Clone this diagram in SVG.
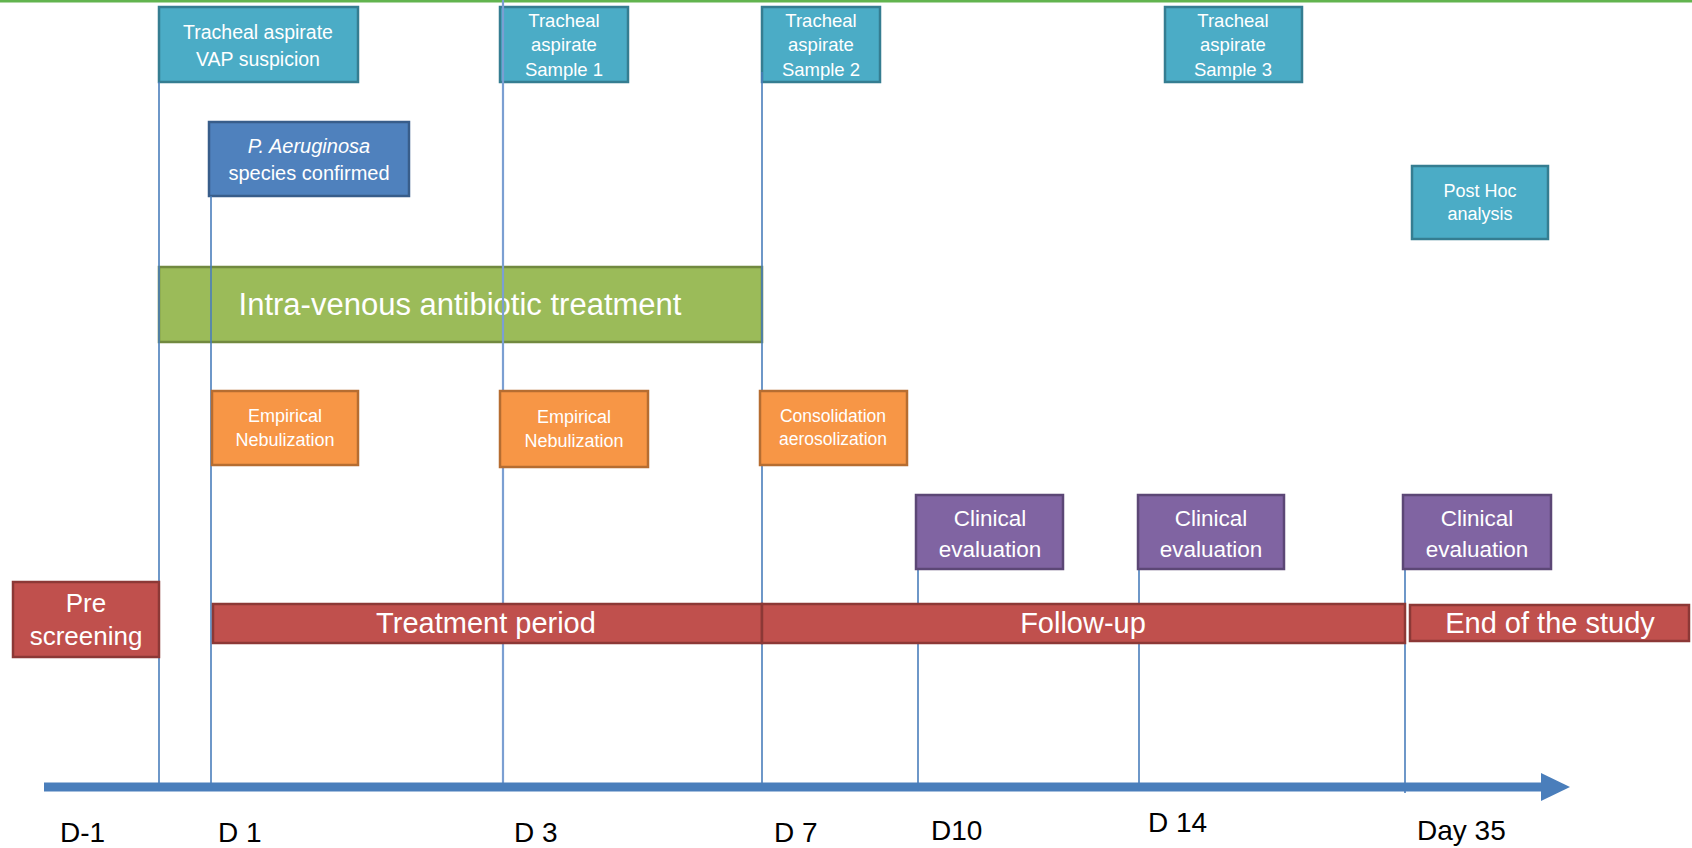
<svg xmlns="http://www.w3.org/2000/svg" width="1692" height="848" viewBox="0 0 1692 848">
  <defs>
    <style>
      text { font-family: "Liberation Sans", Arial, sans-serif; fill: #ffffff; text-anchor: middle; }
      .teal { fill: #4bacc6; stroke: #357d91; stroke-width: 2.5; }
      .blue { fill: #4f81bd; stroke: #385d8a; stroke-width: 2.5; }
      .green { fill: #9bbb59; stroke: #71893f; stroke-width: 2.5; }
      .orange { fill: #f79646; stroke: #b66d31; stroke-width: 2.5; }
      .purple { fill: #8064a2; stroke: #5c4776; stroke-width: 2.5; }
      .red { fill: #c0504d; stroke: #8c3836; stroke-width: 2.5; }
      .tick { stroke: #4a7ebb; stroke-width: 1.6; fill: none; }
      .day { fill: #000000; font-size: 28px; text-anchor: start; }
    </style>
  </defs>
  <rect width="1692" height="848" fill="#ffffff"/>
  <line x1="0" y1="1" x2="1692" y2="1" stroke="#62b44f" stroke-width="3"/>

  <!-- IV treatment span -->
  <g id="iv-treatment">
    <rect class="green" x="159" y="267" width="603" height="75"/>
    <text x="460" y="315" font-size="31">Intra-venous antibiotic treatment</text>
  </g>

  <!-- sampling boxes -->
  <g id="aspirate-vap">
    <rect class="teal" x="159" y="7" width="199" height="75"/>
    <text x="258" y="39" font-size="19.5">Tracheal aspirate</text>
    <text x="258" y="66" font-size="19.5">VAP suspicion</text>
  </g>
  <g id="aspirate-s1">
    <rect class="teal" x="500" y="7" width="128" height="75"/>
    <text font-size="18.5"><tspan x="564" y="27">Tracheal</tspan><tspan x="564" y="51">aspirate</tspan><tspan x="564" y="76">Sample 1</tspan></text>
  </g>
  <g id="aspirate-s2">
    <rect class="teal" x="762" y="7" width="118" height="75"/>
    <text font-size="18.5"><tspan x="821" y="27">Tracheal</tspan><tspan x="821" y="51">aspirate</tspan><tspan x="821" y="76">Sample 2</tspan></text>
  </g>
  <g id="aspirate-s3">
    <rect class="teal" x="1165" y="7" width="137" height="75"/>
    <text font-size="18.5"><tspan x="1233" y="27">Tracheal</tspan><tspan x="1233" y="51">aspirate</tspan><tspan x="1233" y="76">Sample 3</tspan></text>
  </g>
  <g id="post-hoc">
    <rect class="teal" x="1412" y="166" width="136" height="73"/>
    <text font-size="18"><tspan x="1480" y="197">Post Hoc</tspan><tspan x="1480" y="220">analysis</tspan></text>
  </g>
  <g id="species-confirmed">
    <rect class="blue" x="209" y="122" width="200" height="74"/>
    <text x="309" y="153" font-size="20" font-style="italic">P. Aeruginosa</text>
    <text x="309" y="180" font-size="20">species confirmed</text>
  </g>

  <!-- timeline markers -->
  <g id="connectors">
    <line class="tick" x1="159" y1="82" x2="159" y2="783"/>
    <line class="tick" x1="211" y1="196" x2="211" y2="783"/>
    <line x1="503" y1="0" x2="503" y2="783" stroke="#7b9fd2" stroke-width="2.2"/>
    <line class="tick" x1="762" y1="72" x2="762" y2="783"/>
    <line class="tick" x1="918" y1="569" x2="918" y2="783"/>
    <line class="tick" x1="1139" y1="569" x2="1139" y2="783"/>
    <line class="tick" x1="1405" y1="523" x2="1405" y2="793"/>
  </g>

  <!-- aerosol steps -->
  <g id="nebulization-1">
    <rect class="orange" x="212" y="391" width="146" height="74"/>
    <text font-size="18"><tspan x="285" y="422">Empirical</tspan><tspan x="285" y="446">Nebulization</tspan></text>
  </g>
  <g id="nebulization-2">
    <rect class="orange" x="500" y="391" width="148" height="76"/>
    <text font-size="18"><tspan x="574" y="423">Empirical</tspan><tspan x="574" y="447">Nebulization</tspan></text>
  </g>
  <g id="consolidation">
    <rect class="orange" x="760" y="391" width="147" height="74"/>
    <text font-size="17.5"><tspan x="833" y="422">Consolidation</tspan><tspan x="833" y="445">aerosolization</tspan></text>
  </g>

  <!-- clinical evaluations -->
  <g id="clinical-d10">
    <rect class="purple" x="916" y="495" width="147" height="74"/>
    <text font-size="22.5"><tspan x="990" y="526">Clinical</tspan><tspan x="990" y="557">evaluation</tspan></text>
  </g>
  <g id="clinical-d14">
    <rect class="purple" x="1138" y="495" width="146" height="74"/>
    <text font-size="22.5"><tspan x="1211" y="526">Clinical</tspan><tspan x="1211" y="557">evaluation</tspan></text>
  </g>
  <g id="clinical-d35">
    <rect class="purple" x="1403" y="495" width="148" height="74"/>
    <text font-size="22.5"><tspan x="1477" y="526">Clinical</tspan><tspan x="1477" y="557">evaluation</tspan></text>
  </g>

  <!-- study phases -->
  <g id="pre-screening">
    <rect class="red" x="13" y="582" width="146" height="75"/>
    <text font-size="26"><tspan x="86" y="612">Pre</tspan><tspan x="86" y="645">screening</tspan></text>
  </g>
  <g id="treatment-period">
    <rect class="red" x="213" y="604" width="549" height="39"/>
    <text x="486" y="633" font-size="29">Treatment period</text>
  </g>
  <g id="follow-up">
    <rect class="red" x="762" y="604" width="643" height="39"/>
    <text x="1083" y="633" font-size="29">Follow-up</text>
  </g>
  <g id="end-of-study">
    <rect class="red" x="1410" y="605" width="279" height="36"/>
    <text x="1550" y="633" font-size="29">End of the study</text>
  </g>

  <!-- time axis -->
  <g id="axis">
    <line x1="44" y1="787" x2="1543" y2="787" stroke="#4a7ebb" stroke-width="9"/>
    <polygon points="1541,773 1570,787 1541,801" fill="#4a7ebb"/>
    <text class="day" x="60" y="842">D-1</text>
    <text class="day" x="218" y="842">D 1</text>
    <text class="day" x="514" y="842">D 3</text>
    <text class="day" x="774" y="842">D 7</text>
    <text class="day" x="931" y="840">D10</text>
    <text class="day" x="1148" y="832">D 14</text>
    <text class="day" x="1417" y="840">Day 35</text>
  </g>
</svg>
